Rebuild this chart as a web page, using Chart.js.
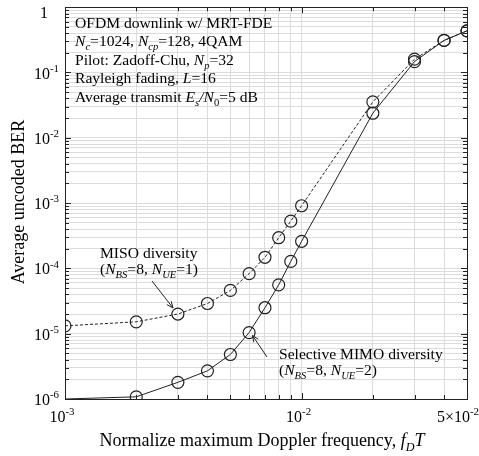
<!DOCTYPE html>
<html>
<head>
<meta charset="utf-8">
<script src="https://cdn.jsdelivr.net/npm/chart.js@4.4.1/dist/chart.umd.min.js"></script>
<style>
	html, body { margin: 0; padding: 0; background: #fff; }
	#wrap { width: 479px; height: 456px; }
</style>
</head>
<body>
<div id="wrap"><canvas id="ber-canvas" width="479" height="456"></canvas></div>
<script>
// Normalized max Doppler frequency (f_D T) and the measured BER
const fdT = [0.001, 0.002, 0.003, 0.004, 0.005, 0.006, 0.007, 0.008, 0.009, 0.01, 0.02, 0.03, 0.04, 0.05];
const berMISO = [1.32e-5, 1.52e-5, 2.0e-5, 2.9e-5, 4.6e-5, 8.3e-5, 1.48e-4, 2.95e-4, 5.3e-4, 9.1e-4, 0.0355, 0.16, 0.31, 0.435];
const berMIMO = [1.0e-6, 1.08e-6, 1.8e-6, 2.7e-6, 4.8e-6, 1.04e-5, 2.5e-5, 5.6e-5, 1.28e-4, 2.6e-4, 0.0238, 0.147, 0.31, 0.435];

// Axis ticks
const yExponents = [-6, -5, -4, -3, -2, -1, 0];
const xMajorTicks = [0.001, 0.01, 0.05];
const xMajorLabels = [["10", "-3"], ["10", "-2"], ["5\u00d710", "-2"]];
const xMinorTicks = [0.001, 0.002, 0.003, 0.004, 0.005, 0.006, 0.007, 0.008, 0.009, 0.01, 0.02, 0.03, 0.04, 0.05];

const FONT = '"Liberation Serif", "Times New Roman", serif';

function yTickValues() {
	let out = [];
	for (let e = -6; e < 0; e++) {
		for (let m = 1; m <= 9; m++) out.push(m * Math.pow(10, e));
	}
	out.push(1);
	return out;
}

// draw a line of text made of parts: [text, flags] with i=italic, b=subscript, p=superscript
function richWidth(ctx, parts, size) {
	let w = 0;
	parts.forEach(([t, f]) => {
		let s = (f.includes('b') || f.includes('p')) ? size * 0.68 : size;
		ctx.font = (f.includes('i') ? 'italic ' : '') + s + 'px ' + FONT;
		w += ctx.measureText(t).width;
	});
	return w;
}

function drawRich(ctx, parts, x, y, size, align) {
	let w = richWidth(ctx, parts, size);
	if (align === 'center') x -= w / 2;
	if (align === 'right') x -= w;
	ctx.textBaseline = 'alphabetic';
	ctx.textAlign = 'left';
	ctx.fillStyle = '#000';
	parts.forEach(([t, f]) => {
		let s = size, dy = 0;
		if (f.includes('b')) { s = size * 0.68; dy = size * 0.28; }
		if (f.includes('p')) { s = size * 0.68; dy = -size * 0.42; }
		ctx.font = (f.includes('i') ? 'italic ' : '') + s + 'px ' + FONT;
		ctx.fillText(t, x, y + dy);
		x += ctx.measureText(t).width;
	});
}

function arrow(ctx, x1, y1, x2, y2) {
	const ang = Math.atan2(y2 - y1, x2 - x1);
	const len = 7;
	ctx.beginPath();
	ctx.moveTo(x1, y1);
	ctx.lineTo(x2, y2);
	ctx.moveTo(x2 - len * Math.cos(ang - 0.4), y2 - len * Math.sin(ang - 0.4));
	ctx.lineTo(x2, y2);
	ctx.lineTo(x2 - len * Math.cos(ang + 0.4), y2 - len * Math.sin(ang + 0.4));
	ctx.stroke();
}

const decorPlugin = {
	id: 'decor',
	afterDraw(chart) {
		const ctx = chart.ctx;
		const area = chart.chartArea;
		const xs = chart.scales.x;
		const ys = chart.scales.y;
		ctx.save();

		// inner tick marks
		ctx.strokeStyle = '#222';
		ctx.lineWidth = 1;
		ctx.beginPath();
		yTickValues().forEach(v => {
			let py = Math.round(ys.getPixelForValue(v)) + 0.5;
			let major = Math.abs(Math.log10(v) - Math.round(Math.log10(v))) < 1e-9;
			let len = major ? 6 : 4;
			ctx.moveTo(area.left, py); ctx.lineTo(area.left + len, py);
			ctx.moveTo(area.right, py); ctx.lineTo(area.right - len, py);
		});
		xMinorTicks.forEach(v => {
			let px = Math.round(xs.getPixelForValue(v)) + 0.5;
			let major = xMajorTicks.includes(v);
			let len = major ? 6 : 4;
			ctx.moveTo(px, area.bottom); ctx.lineTo(px, area.bottom - len);
			ctx.moveTo(px, area.top); ctx.lineTo(px, area.top + len);
		});
		ctx.stroke();

		// frame
		ctx.strokeStyle = '#222';
		ctx.strokeRect(Math.round(area.left) + 0.5, Math.round(area.top) + 0.5,
			Math.round(area.right - area.left), Math.round(area.bottom - area.top));

		// y tick labels
		yExponents.forEach(e => {
			let py = ys.getPixelForValue(Math.pow(10, e));
			if (e === 0) {
				drawRich(ctx, [['1', '']], 44, py + 11, 16, 'center');
			} else {
				drawRich(ctx, [['10', ''], [String(e), 'p']], area.left - 6, py + 6, 16, 'right');
			}
		});

		// x tick labels
		xMajorTicks.forEach((v, i) => {
			let px = xs.getPixelForValue(v);
			let lab = xMajorLabels[i];
			if (i === xMajorTicks.length - 1) {
				drawRich(ctx, [[lab[0], ''], [lab[1], 'p']], 479, 422, 16, 'right');
			} else {
				drawRich(ctx, [[lab[0], ''], [lab[1], 'p']], px - 3, 422, 16, 'center');
			}
		});

		// axis titles
		drawRich(ctx, [['Normalize maximum Doppler frequency, ', ''], ['f', 'i'], ['D', 'ib'], ['T', 'i']], 262, 446, 18, 'center');
		ctx.save();
		ctx.translate(24, 202);
		ctx.rotate(-Math.PI / 2);
		drawRich(ctx, [['Average uncoded BER', '']], 0, 0, 18, 'center');
		ctx.restore();

		// parameter box
		const info = [
			[['OFDM downlink w/ MRT-FDE', '']],
			[['N', 'i'], ['c', 'ib'], ['=1024, ', ''], ['N', 'i'], ['cp', 'ib'], ['=128, 4QAM', '']],
			[['Pilot: Zadoff-Chu, ', ''], ['N', 'i'], ['p', 'ib'], ['=32', '']],
			[['Rayleigh fading, ', ''], ['L', 'i'], ['=16', '']],
			[['Average transmit ', ''], ['E', 'i'], ['s', 'ib'], ['/', 'i'], ['N', 'i'], ['0', 'b'], ['=5 dB', '']]
		];
		info.forEach((line, i) => drawRich(ctx, line, 75, 27.5 + i * 18.5, 15.6, 'left'));

		// curve labels
		drawRich(ctx, [['MISO diversity', '']], 100, 258, 15.6, 'left');
		drawRich(ctx, [['(', ''], ['N', 'i'], ['BS', 'ib'], ['=8, ', ''], ['N', 'i'], ['UE', 'ib'], ['=1)', '']], 100, 273.5, 15.6, 'left');
		drawRich(ctx, [['Selective MIMO diversity', '']], 279, 359, 15.6, 'left');
		drawRich(ctx, [['(', ''], ['N', 'i'], ['BS', 'ib'], ['=8, ', ''], ['N', 'i'], ['UE', 'ib'], ['=2)', '']], 279, 375, 15.6, 'left');

		ctx.strokeStyle = '#222';
		ctx.lineWidth = 1;
		arrow(ctx, 152, 281, 173, 308);
		arrow(ctx, 267, 357, 252.5, 335.5);

		ctx.restore();
	}
};

const ctx = document.getElementById('ber-canvas').getContext('2d');

const misoPts = fdT.map((x, i) => ({ x: x, y: berMISO[i] }));
const mimoPts = fdT.map((x, i) => ({ x: x, y: berMIMO[i] }));

const chart = new Chart(ctx, {
	type: 'scatter',
	data: {
		datasets: [
			{
				label: 'MISO diversity',
				data: misoPts,
				showLine: true,
				borderColor: '#222',
				backgroundColor: 'rgba(0,0,0,0)',
				borderWidth: 1,
				borderDash: [3, 2],
				pointRadius: 6,
				pointBorderWidth: 1.2,
				pointBorderColor: '#222',
				pointBackgroundColor: 'rgba(0,0,0,0)'
			},
			{
				label: 'Selective MIMO diversity',
				data: mimoPts,
				showLine: true,
				borderColor: '#222',
				backgroundColor: 'rgba(0,0,0,0)',
				borderWidth: 1,
				pointRadius: fdT.map((x, i) => i === 0 ? 0 : 6),
				pointBorderWidth: 1.2,
				pointBorderColor: '#222',
				pointBackgroundColor: 'rgba(0,0,0,0)'
			}
		]
	},
	options: {
		responsive: false,
		animation: false,
		layout: {
			padding: { left: 65, top: 6, right: 12, bottom: 57 }
		},
		plugins: {
			legend: { display: false },
			tooltip: { enabled: false }
		},
		scales: {
			x: {
				type: 'logarithmic',
				min: 0.001,
				max: 0.05,
				afterBuildTicks: (scale) => {
					scale.ticks = xMinorTicks.map(v => ({ value: v }));
				},
				ticks: { display: false },
				border: { display: false },
				grid: { color: '#dcdcdc', lineWidth: 1, drawTicks: false }
			},
			y: {
				type: 'logarithmic',
				min: 1e-6,
				max: 1,
				afterBuildTicks: (scale) => {
					scale.ticks = yTickValues().map(v => ({ value: v }));
				},
				ticks: { display: false },
				border: { display: false },
				grid: { color: '#dcdcdc', lineWidth: 1, drawTicks: false }
			}
		}
	},
	plugins: [decorPlugin]
});
</script>
</body>
</html>
